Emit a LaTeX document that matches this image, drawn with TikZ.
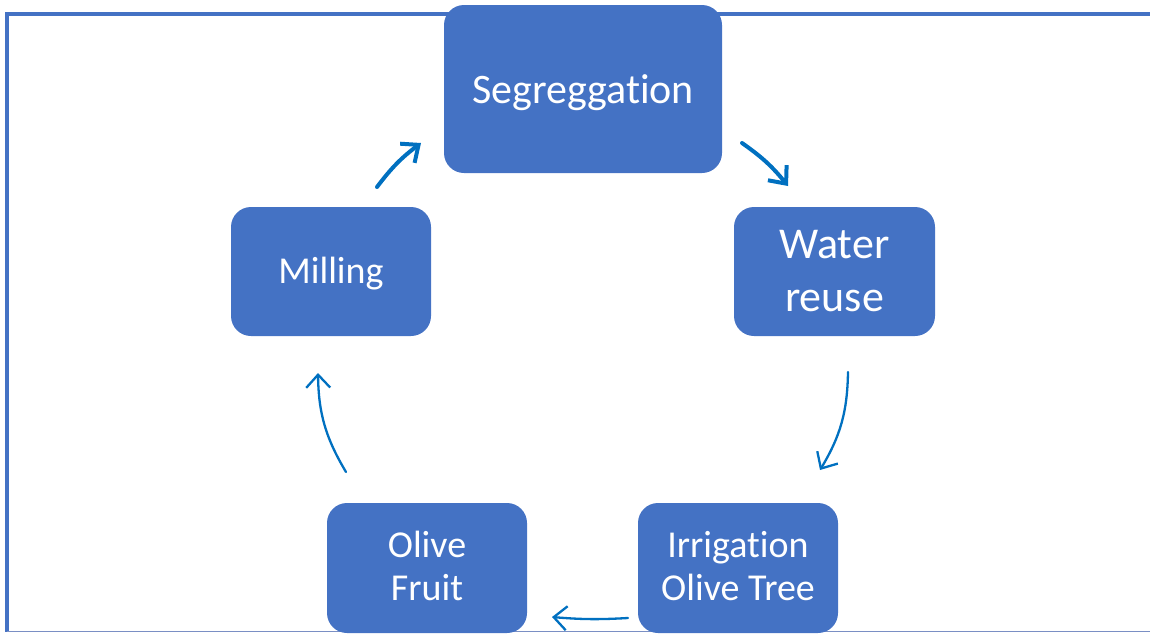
\documentclass[tikz,border=0pt]{standalone}
\usepackage{fontspec}
\setmainfont[Ligatures={NoCommon,NoRequired,NoContextual}]{Carlito}
\usetikzlibrary{arrows.meta}
\definecolor{boxblue}{HTML}{4472C4}
\definecolor{arrblue}{HTML}{0070C0}
\definecolor{edgegray}{HTML}{7A8FC4}
\tikzset{
  stepbox/.style={draw=none, fill=boxblue, rounded corners=20pt, text=white,
    align=center, inner sep=0pt, font=\fontsize{38}{43}\selectfont},
  thickarr/.style={draw=arrblue, line width=4pt, line cap=round,
    -{Straight Barb[length=14pt,width=24pt,line width=4pt]}},
  thinarr/.style={draw=arrblue, line width=2.3pt, line cap=round,
    -{Straight Barb[length=13pt,width=24pt,line width=2.3pt]}}
}
\begin{document}
\begin{tikzpicture}[x=1pt,y=-1pt]
\useasboundingbox (0,0) rectangle (1150,633);
% frame
\draw[boxblue, line width=4pt] (1152,13.5) -- (6.5,13.5) -- (6.5,631.5);
\draw[edgegray, line width=1.5pt] (6.5,631.5) -- (1152,631.5);
% boxes
\node[stepbox, minimum width=278pt, minimum height=168pt, font=\fontsize{42}{48}\selectfont] (seg) at (583,89) {\raisebox{-4pt}[\height][\depth]{Segreggat\kern0pt ion}};
\node[stepbox, minimum width=201pt, minimum height=129pt, font=\fontsize{44}{53}\selectfont] (water) at (834.5,271.5) {Water\\reuse};
\node[stepbox, minimum width=200pt, minimum height=129pt] (mill) at (331,271.5) {\raisebox{-2pt}[\height][\depth]{Milling}};
\node[stepbox, minimum width=200pt, minimum height=130pt] (fruit) at (427,568) {\raisebox{-2pt}[\height][\depth]{\begin{tabular}{@{}c@{}}Olive\\Fruit\end{tabular}}};
\node[stepbox, minimum width=200pt, minimum height=130pt] (irr) at (738,568) {\raisebox{-2pt}[\height][\depth]{\begin{tabular}{@{}c@{}}Irrigat\kern0pt ion\\Olive Tree\end{tabular}}};
% connectors
\coordinate (a1s) at (377,187); \coordinate (a1e) at (421,143);
\coordinate (a2s) at (742,143); \coordinate (a2e) at (788,186);
\coordinate (a3s) at (848,372); \coordinate (a3e) at (820,470);
\coordinate (a4s) at (628,618); \coordinate (a4e) at (552,617);
\coordinate (a5s) at (346,472); \coordinate (a5e) at (318,373);
\draw[thickarr] (a1s) to[bend left=8] (a1e);
\draw[thickarr] (a2s) to[bend left=8] (a2e);
\draw[thinarr] (a3s) to[bend left=15] (a3e);
\draw[thinarr] (a4s) to[bend left=4] (a4e);
\draw[thinarr] (a5s) to[bend left=15] (a5e);
\end{tikzpicture}
\end{document}
